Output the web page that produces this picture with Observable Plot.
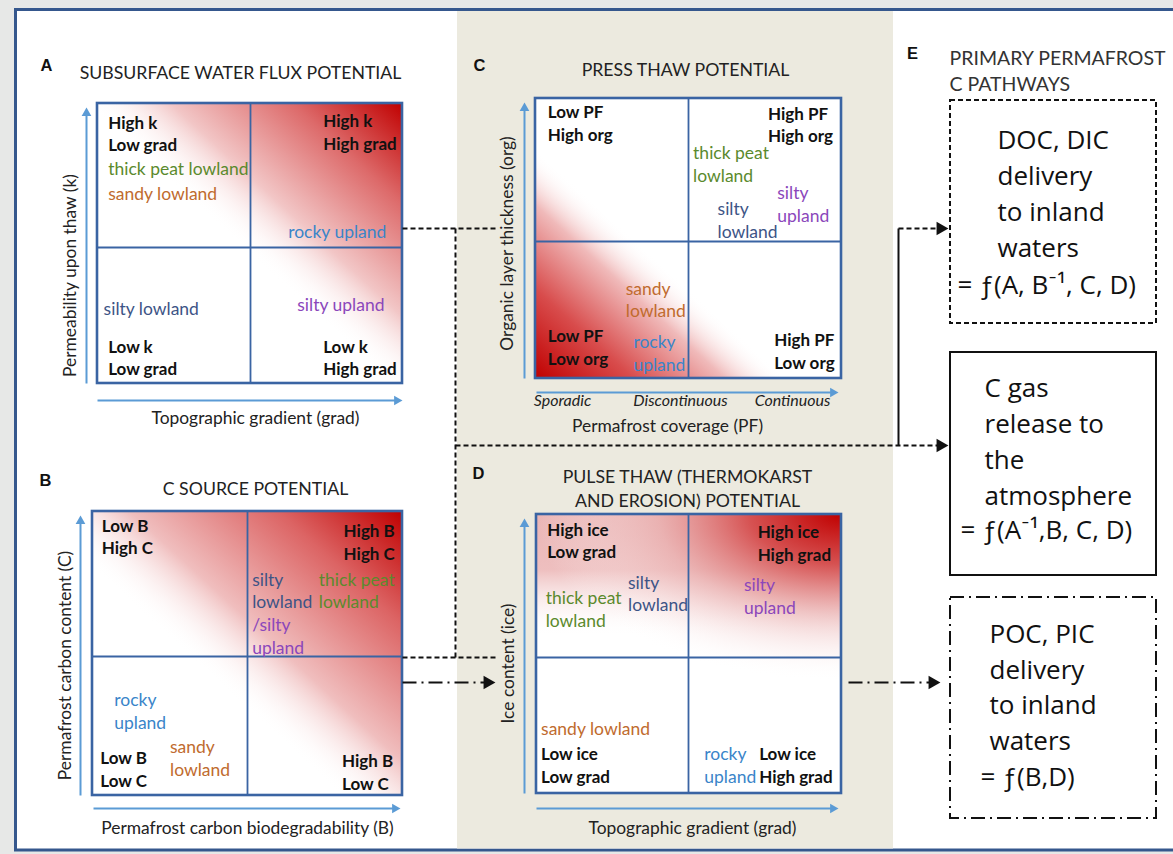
<!DOCTYPE html>
<html><head><meta charset="utf-8">
<script src="https://cdn.jsdelivr.net/npm/d3@7"></script>
<script src="https://cdn.jsdelivr.net/npm/@observablehq/plot@0.6"></script>
<style>html,body{margin:0;padding:0;background:#e7e8e7;} svg{display:block}</style>
</head><body><div id="chart"></div>
<script>
const W = 1173, H = 854;

// ---------------- data ----------------
const panelIds = ["A", "B", "C", "D"];
const panelTitles = {
  A: "SUBSURFACE WATER FLUX POTENTIAL",
  B: "C SOURCE POTENTIAL",
  C: "PRESS THAW POTENTIAL",
  D: "PULSE THAW (THERMOKARST\nAND EROSION) POTENTIAL",
  E: "PRIMARY PERMAFROST\nC PATHWAYS"
};
const xAxisLabels = {
  A: "Topographic gradient (grad)",
  B: "Permafrost carbon biodegradability (B)",
  C: "Permafrost coverage (PF)",
  D: "Topographic gradient (grad)"
};
const yAxisLabels = {
  A: "Permeability upon thaw (k)",
  B: "Permafrost carbon content (C)",
  C: "Organic layer thickness (org)",
  D: "Ice content (ice)"
};
const coverageTicks = ["Sporadic", "Discontinuous", "Continuous"];

// corner classes (u: 0..2 along x axis, v: 0..2 along y axis, in quadrant units)
const cornerClasses = [
  {panel: "A", text: "High k\nLow grad", u: 0.07, v: 1.79},
  {panel: "A", text: "High k\nHigh grad", u: 1.48, v: 1.80},
  {panel: "A", text: "Low k\nLow grad", u: 0.07, v: 0.19},
  {panel: "A", text: "Low k\nHigh grad", u: 1.48, v: 0.19},
  {panel: "B", text: "Low B\nHigh C", u: 0.06, v: 1.83},
  {panel: "B", text: "High B\nHigh C", u: 1.62, v: 1.79},
  {panel: "B", text: "Low B\nLow C", u: 0.05, v: 0.19},
  {panel: "B", text: "High B\nLow C", u: 1.61, v: 0.17},
  {panel: "C", text: "Low PF\nHigh org", u: 0.08, v: 1.83},
  {panel: "C", text: "High PF\nHigh org", u: 1.52, v: 1.82},
  {panel: "C", text: "Low PF\nLow org", u: 0.08, v: 0.23},
  {panel: "C", text: "High PF\nLow org", u: 1.56, v: 0.20},
  {panel: "D", text: "High ice\nLow grad", u: 0.07, v: 1.82},
  {panel: "D", text: "High ice\nHigh grad", u: 1.45, v: 1.80},
  {panel: "D", text: "Low ice\nLow grad", u: 0.03, v: 0.21},
  {panel: "D", text: "Low ice\nHigh grad", u: 1.46, v: 0.21}
];

// landscape units placed in each panel
const landscapeUnits = [
  {panel: "A", unit: "thick peat lowland", text: "thick peat lowland", u: 0.07, v: 1.54},
  {panel: "A", unit: "sandy lowland", text: "sandy lowland", u: 0.07, v: 1.36},
  {panel: "A", unit: "rocky upland", text: "rocky upland", u: 1.25, v: 1.09},
  {panel: "A", unit: "silty lowland", text: "silty lowland", u: 0.04, v: 0.54},
  {panel: "A", unit: "silty upland", text: "silty upland", u: 1.31, v: 0.57},
  {panel: "B", unit: "silty lowland", text: "silty\nlowland", u: 1.03, v: 1.45},
  {panel: "B", unit: "silty upland", text: "/silty\nupland", u: 1.03, v: 1.13},
  {panel: "B", unit: "thick peat lowland", text: "thick peat\nlowland", u: 1.46, v: 1.45},
  {panel: "B", unit: "rocky upland", text: "rocky\nupland", u: 0.14, v: 0.60},
  {panel: "B", unit: "sandy lowland", text: "sandy\nlowland", u: 0.50, v: 0.27},
  {panel: "C", unit: "thick peat lowland", text: "thick peat\nlowland", u: 1.03, v: 1.54},
  {panel: "C", unit: "silty upland", text: "silty\nupland", u: 1.58, v: 1.25},
  {panel: "C", unit: "silty lowland", text: "silty\nlowland", u: 1.19, v: 1.14},
  {panel: "C", unit: "sandy lowland", text: "sandy\nlowland", u: 0.59, v: 0.57},
  {panel: "C", unit: "rocky upland", text: "rocky\nupland", u: 0.64, v: 0.19},
  {panel: "D", unit: "silty lowland", text: "silty\nlowland", u: 0.60, v: 1.44},
  {panel: "D", unit: "thick peat lowland", text: "thick peat\nlowland", u: 0.06, v: 1.33},
  {panel: "D", unit: "silty upland", text: "silty\nupland", u: 1.36, v: 1.42},
  {panel: "D", unit: "sandy lowland", text: "sandy lowland", u: 0.03, v: 0.47},
  {panel: "D", unit: "rocky upland", text: "rocky\nupland", u: 1.10, v: 0.21}
];

const pathwayNames = ["DOC, DIC\ndelivery\nto inland\nwaters", "C gas\nrelease to\nthe\natmosphere", "POC, PIC\ndelivery\nto inland\nwaters"];
const pathwayFormulas = ["= ƒ(A, B\u207B\u00B9, C, D)", "= ƒ(A\u207B\u00B9,B, C, D)", "= ƒ(B,D)"];

// ---------------- styles & layout ----------------
const unitColors = {
  "thick peat lowland": "#5b8a2d",
  "sandy lowland": "#c06b2e",
  "rocky upland": "#3a85c9",
  "silty lowland": "#3d5486",
  "silty upland": "#8b47bb"
};
const FONT = "Lato, 'Open Sans', sans-serif";
const BOX_FONT = "'Open Sans', Lato, sans-serif";
const LETTER_FONT = "'Liberation Sans', Arial, sans-serif";
const BOX_BLUE = "#3a64a3";
const AXIS_BLUE = "#5b9bd5";

const layout = {
  A: {box: [97, 103, 402, 383], mid: [250, 247], letter: [46, 65], title: [240, 71], yLabel: [70, 275], xLabel: [255, 418], yAxis: [86, 383, 107], xAxis: [400, 97, 402], fill: "url(#gA)"},
  B: {box: [92, 511, 402, 795], mid: [247, 656], letter: [45, 480], title: [255, 487], yLabel: [65, 665], xLabel: [247, 828], yAxis: [80, 795, 515], xAxis: [808, 93, 400], fill: "url(#gB)"},
  C: {box: [535, 98, 841, 378], mid: [688, 241], letter: [479, 65], title: [685, 68], yLabel: [507, 243], xLabel: [667, 426], yAxis: [524, 378, 102], xAxis: [392, 536, 838], fill: "url(#gC)"},
  D: {box: [536, 514, 841, 793], mid: [688, 657], letter: [478, 473], title: [687, 487], yLabel: [508, 663], xLabel: [692, 828], yAxis: [524, 793, 518], xAxis: [808, 536, 838], fill: "url(#gD1)"}
};
const coverageTickPos = {y: 400, x: [562, 680, 792]};
const E = {
  letter: [912, 53], title: [949, 69],
  boxes: [[950, 100, 1156, 323], [950, 352, 1156, 575], [950, 597, 1156, 818]],
  dash: ["5,3", null, "14,5,2,5"],
  text: [[997, 191], [984, 439], [989, 684.5]],
  formula: [[957, 285], [960, 530], [980, 777]]
};
const connectors = {
  dashed: [[402, 228, 497, 228], [455, 228, 455, 657], [402, 657, 497, 657], [455, 445, 940, 445], [898, 228, 940, 228]],
  solid: [[898, 228, 898, 445]],
  dashdot: [[402, 682, 487, 682], [848, 682, 932, 682]]
};
const arrowTips = [[948, 228], [948, 445], [495, 682], [940, 682]];

// ---------------- derived ----------------
const px = (p, u) => { const b = layout[p].box; return b[0] + u / 2 * (b[2] - b[0]); };
const py = (p, v) => { const b = layout[p].box; return b[3] - v / 2 * (b[3] - b[1]); };

const boxes = panelIds.map(p => ({p, x1: layout[p].box[0], y1: layout[p].box[1], x2: layout[p].box[2], y2: layout[p].box[3]}));
const midLines = panelIds.flatMap(p => {
  const L = layout[p];
  return [
    {x1: L.mid[0], y1: L.box[1], x2: L.mid[0], y2: L.box[3]},
    {x1: L.box[0], y1: L.mid[1], x2: L.box[2], y2: L.mid[1]}
  ];
});
const axisLines = panelIds.flatMap(p => {
  const L = layout[p];
  return [
    {x1: L.yAxis[0], y1: L.yAxis[1], x2: L.yAxis[0], y2: L.yAxis[2] + 4},
    {x1: L.xAxis[1], y1: L.xAxis[0], x2: L.xAxis[2] - 4, y2: L.xAxis[0]}
  ];
});
const AH = 5.6; // axis head tip offset
const axisHeads = panelIds.flatMap(p => {
  const L = layout[p];
  return [
    {x: L.yAxis[0], y: L.yAxis[2] + AH, rot: 0},
    {x: L.xAxis[2] - AH, y: L.xAxis[0], rot: 90}
  ];
});
const classRows = cornerClasses.map(d => ({...d, x: px(d.panel, d.u), y: py(d.panel, d.v)}));
const unitRows = landscapeUnits.map(d => ({...d, x: px(d.panel, d.u), y: py(d.panel, d.v), color: unitColors[d.unit]}));
const letters = [...panelIds.map(p => ({t: p, x: layout[p].letter[0], y: layout[p].letter[1]})), {t: "E", x: E.letter[0], y: E.letter[1]}];
const titles = panelIds.map(p => ({t: panelTitles[p], x: layout[p].title[0], y: layout[p].title[1]}));
const xLabs = panelIds.map(p => ({t: xAxisLabels[p], x: layout[p].xLabel[0], y: layout[p].xLabel[1]}));
const yLabs = panelIds.map(p => ({t: yAxisLabels[p], x: layout[p].yLabel[0], y: layout[p].yLabel[1]}));
const ticks = coverageTicks.map((t, i) => ({t, x: coverageTickPos.x[i], y: coverageTickPos.y}));
const eBoxes = E.boxes.map((b, i) => ({x1: b[0], y1: b[1], x2: b[2], y2: b[3], dash: E.dash[i]}));
const eTexts = pathwayNames.map((t, i) => ({t, x: E.text[i][0], y: E.text[i][1]}));
const eForms = pathwayFormulas.map((t, i) => ({t, x: E.formula[i][0], y: E.formula[i][1]}));
const toLinks = arr => arr.map(([x1, y1, x2, y2]) => ({x1, y1, x2, y2}));
const heads = arrowTips.map(([x, y]) => ({x: x - 8, y}));

const svg = Plot.plot({
  width: W, height: H, margin: 0,
  x: {domain: [0, W], range: [0, W], axis: null},
  y: {domain: [0, H], range: [0, H], axis: null},
  color: {type: "identity"},
  style: {fontFamily: FONT, background: "#e7e8e7", overflow: "visible"},
  marks: [
    // frame and bands
    Plot.rect([{x1: 15.5, y1: 9.5, x2: 1190, y2: 850}], {x1: "x1", y1: "y1", x2: "x2", y2: "y2", fill: "white", stroke: "#35578d", strokeWidth: 3}),
    Plot.rect([{x1: 457, y1: 11, x2: 893, y2: 848.5}], {x1: "x1", y1: "y1", x2: "x2", y2: "y2", fill: "#eceadf"}),
    // quadrant boxes
    Plot.rect(boxes, {x1: "x1", y1: "y1", x2: "x2", y2: "y2", fill: "white"}),
    ...panelIds.map(p => Plot.rect(boxes.filter(b => b.p === p), {x1: "x1", y1: "y1", x2: "x2", y2: "y2", fill: layout[p].fill})),
    Plot.rect(boxes.filter(b => b.p === "D"), {x1: "x1", y1: "y1", x2: "x2", y2: "y2", fill: "url(#gD2)"}),
    Plot.link(midLines, {x1: "x1", y1: "y1", x2: "x2", y2: "y2", stroke: BOX_BLUE, strokeWidth: 1.8}),
    Plot.rect(boxes, {x1: "x1", y1: "y1", x2: "x2", y2: "y2", fill: "none", stroke: BOX_BLUE, strokeWidth: 2.6}),
    // axes arrows
    Plot.link(axisLines, {x1: "x1", y1: "y1", x2: "x2", y2: "y2", stroke: AXIS_BLUE, strokeWidth: 2}),
    Plot.dot(axisHeads, {x: "x", y: "y", symbol: "triangle", r: 3.6, rotate: "rot", fill: AXIS_BLUE, stroke: "none"}),
    // connectors
    Plot.link(toLinks(connectors.dashed), {x1: "x1", y1: "y1", x2: "x2", y2: "y2", stroke: "#111", strokeWidth: 2, strokeDasharray: "5,3"}),
    Plot.link(toLinks(connectors.solid), {x1: "x1", y1: "y1", x2: "x2", y2: "y2", stroke: "#111", strokeWidth: 2}),
    Plot.link(toLinks(connectors.dashdot), {x1: "x1", y1: "y1", x2: "x2", y2: "y2", stroke: "#111", strokeWidth: 2, strokeDasharray: "14,5,2,5"}),
    Plot.dot(heads, {x: "x", y: "y", symbol: "triangle", r: 5.1, rotate: 90, fill: "#111", stroke: "none"}),
    // pathway boxes
    Plot.rect(eBoxes.filter(d => d.dash === "5,3"), {x1: "x1", y1: "y1", x2: "x2", y2: "y2", fill: "none", stroke: "#111", strokeWidth: 2, strokeDasharray: "5,3"}),
    Plot.rect(eBoxes.filter(d => !d.dash), {x1: "x1", y1: "y1", x2: "x2", y2: "y2", fill: "none", stroke: "#111", strokeWidth: 2}),
    Plot.rect(eBoxes.filter(d => d.dash === "14,5,2,5"), {x1: "x1", y1: "y1", x2: "x2", y2: "y2", fill: "none", stroke: "#111", strokeWidth: 2, strokeDasharray: "14,5,2,5"}),
    // texts
    Plot.text(letters, {x: "x", y: "y", text: "t", fontFamily: LETTER_FONT, fontWeight: "bold", fontSize: 16.5, fill: "#111"}),
    Plot.text(titles, {x: "x", y: "y", text: "t", fontSize: 17.7, fill: "#222", lineHeight: 1.36}),
    Plot.text([{t: panelTitles.E, x: E.title[0], y: E.title[1]}], {x: "x", y: "y", text: "t", fontSize: 19.5, fill: "#333", textAnchor: "start", lineHeight: 1.36}),
    Plot.text(xLabs, {x: "x", y: "y", text: "t", fontSize: 17.4, fill: "#222"}),
    Plot.text(yLabs, {x: "x", y: "y", text: "t", fontSize: 17.4, fill: "#222", rotate: -90}),
    Plot.text(ticks, {x: "x", y: "y", text: "t", fontSize: 16, fontStyle: "italic", fill: "#222"}),
    Plot.text(classRows, {x: "x", y: "y", text: "text", fontSize: 17, fontWeight: "bold", fill: "#111", textAnchor: "start", lineHeight: 1.32}),
    Plot.text(unitRows, {x: "x", y: "y", text: "text", fontSize: 17.5, fill: "color", textAnchor: "start", lineHeight: 1.3}),
    Plot.text(eTexts, {x: "x", y: "y", text: "t", fontFamily: BOX_FONT, fontSize: 26, fill: "#111", textAnchor: "start", lineHeight: 1.38}),
    Plot.text(eForms, {x: "x", y: "y", text: "t", fontFamily: BOX_FONT, fontSize: 26, fill: "#111", textAnchor: "start"})
  ]
});

// gradient definitions
const defs = `
<linearGradient id="gA" x1="0" y1="1" x2="1" y2="0">
  <stop offset="0" stop-color="#ffffff" stop-opacity="0"/>
  <stop offset="0.48" stop-color="#ffffff" stop-opacity="0"/>
  <stop offset="0.62" stop-color="#f2c6c6"/>
  <stop offset="0.82" stop-color="#dd6a6a"/>
  <stop offset="1" stop-color="#c00000"/>
</linearGradient>
<linearGradient id="gB" x1="0" y1="1" x2="1" y2="0">
  <stop offset="0" stop-color="#ffffff" stop-opacity="0"/>
  <stop offset="0.4" stop-color="#ffffff" stop-opacity="0"/>
  <stop offset="0.56" stop-color="#f0bebe"/>
  <stop offset="0.8" stop-color="#dc6464"/>
  <stop offset="1" stop-color="#c00000"/>
</linearGradient>
<linearGradient id="gC" x1="0" y1="1" x2="1" y2="0">
  <stop offset="0" stop-color="#c00000"/>
  <stop offset="0.16" stop-color="#d84c4c"/>
  <stop offset="0.31" stop-color="#f0baba"/>
  <stop offset="0.41" stop-color="#ffffff" stop-opacity="0"/>
  <stop offset="1" stop-color="#ffffff" stop-opacity="0"/>
</linearGradient>
<linearGradient id="gD1" x1="0" y1="0" x2="0" y2="1">
  <stop offset="0" stop-color="#eab4b4"/>
  <stop offset="0.2" stop-color="#eebfbf"/>
  <stop offset="0.44" stop-color="#ffffff" stop-opacity="0"/>
  <stop offset="1" stop-color="#ffffff" stop-opacity="0"/>
</linearGradient>
<radialGradient id="gD2" cx="1" cy="0" r="1" gradientTransform="translate(1,0) scale(1,0.6) translate(-1,0)">
  <stop offset="0" stop-color="#c00000"/>
  <stop offset="0.3" stop-color="#d65252"/>
  <stop offset="0.6" stop-color="#eab0b0" stop-opacity="0.7"/>
  <stop offset="1" stop-color="#ffffff" stop-opacity="0"/>
</radialGradient>`;
const defsEl = document.createElementNS("http://www.w3.org/2000/svg", "defs");
defsEl.innerHTML = defs;
svg.insertBefore(defsEl, svg.firstChild);
document.getElementById("chart").appendChild(svg);
</script>
</body></html>
